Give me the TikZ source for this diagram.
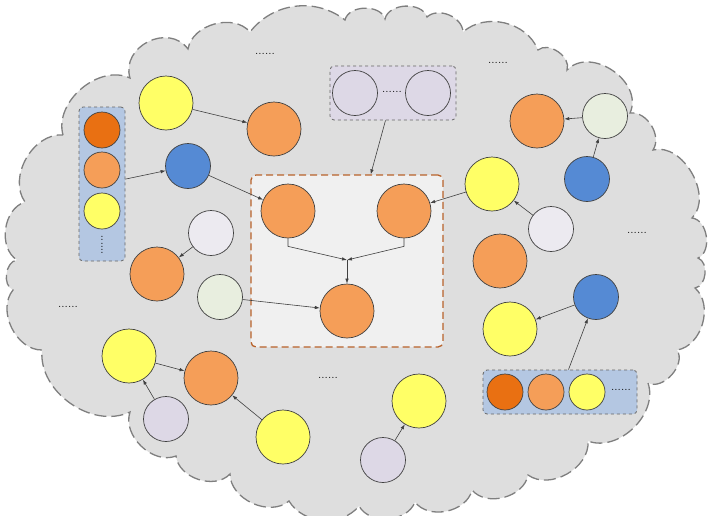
\documentclass[tikz,border=0pt]{standalone}
\usepackage{xcolor}
\usetikzlibrary{arrows.meta}
\definecolor{cfill}{HTML}{DEDEDE}
\definecolor{cgray}{HTML}{7F7F7F}
\definecolor{cedge}{HTML}{404040}
\definecolor{cyel}{HTML}{FFFF66}
\definecolor{cora}{HTML}{F59E58}
\definecolor{cdark}{HTML}{E97012}
\definecolor{cblu}{HTML}{558AD4}
\definecolor{clav}{HTML}{DDD8E6}
\definecolor{cpale}{HTML}{ECEAF0}
\definecolor{cgrn}{HTML}{E8EEDF}
\definecolor{cboxb}{HTML}{B4C7E2}
\definecolor{cboxl}{HTML}{DDD8E6}
\definecolor{ccent}{HTML}{F0F0F0}
\definecolor{cbrown}{HTML}{B8622A}

\begin{document}
\begin{tikzpicture}[x=1pt,y=-1pt,
  cloudline/.style={draw=cgray, fill=cfill, line width=1.3pt, dash pattern=on 12pt off 5pt,
    every to/.style={bend left=65, looseness=1}},
  ball/.style={circle, draw=cedge, line width=0.7pt, inner sep=0pt},
  big/.style={ball, minimum size=54pt},
  mid/.style={ball, minimum size=45pt},
  tiny/.style={ball, minimum size=36pt},
  grp/.style={draw=cedge!80, dashed, rounded corners=4pt, line width=0.8pt},
  link/.style={-{Latex[length=5pt,width=3.5pt]}, draw=cedge, line width=0.6pt},
  dots/.style={font=\large, inner sep=0pt}]
  \useasboundingbox (0,0) rectangle (720,515);

  \path[cloudline] (63,135) to (130,78) to[bend left=80, looseness=1.3] (188,49)
    to (250,32) to[bend left=45] (345,20) to[bend left=75] (385,19) to[bend left=75] (427,17)
    to (463,32) to[bend left=55] (538,50) to[bend left=75] (567,70)
    to[bend left=80, looseness=1.15] (630,113) to (653,150) to[bend left=75] (692,218)
    to[bend left=75] (698,258) to[bend left=75] (695,288) to (677,350) to[bend left=75] (648,383)
    to (588,441) to (528,475) to (472,490)
    to (415,502) to (359,506) to[bend left=55] (289,501)
    to (230,474) to (176,456) to (130,412) to[bend left=60] (42,350)
    to (13,290) to[bend left=75] (17,260) to (25,202) to (63,135) -- cycle;

  \node[grp, fill=cboxb, minimum width=46pt, minimum height=154pt] (lbox) at (102,184) {};
  \node[grp, fill=cboxl, minimum width=126pt, minimum height=54pt] (tbox) at (393,93) {};
  \node[grp, fill=cboxb, minimum width=154pt, minimum height=44pt] (rbox) at (560,392) {};
  \node[draw=cbrown, fill=ccent, line width=1.3pt, dash pattern=on 7pt off 4pt,
    rounded corners=5pt, minimum width=192pt, minimum height=172pt] (cbox) at (347,261) {};

  \node[tiny, fill=cdark] (la) at (102,130) {};
  \node[tiny, fill=cora] (lb) at (102,170) {};
  \node[tiny, fill=cyel] (lc) at (102,211) {};
  \node[dots, rotate=90] (ld) at (102,245) {......};
  \node[mid, fill=clav] (ta) at (355,93) {};
  \node[mid, fill=clav] (tb) at (428,93) {};
  \node[dots] (td) at (392,92) {......};
  \node[tiny, fill=cdark] (ra) at (505,392) {};
  \node[tiny, fill=cora] (rb) at (546,392) {};
  \node[tiny, fill=cyel] (rc) at (587,392) {};
  \node[dots] (rd) at (621,390) {......};

  \node[big, fill=cora] (c1) at (288,211) {};
  \node[big, fill=cora] (c2) at (404,211) {};
  \node[big, fill=cora] (c3) at (347,311) {};
  \coordinate (m) at (347,260);

  \node[big, fill=cyel] (y1) at (166,103) {};
  \node[big, fill=cora] (o1) at (274,129) {};
  \node[mid, fill=cblu] (b1) at (188,166) {};
  \node[mid, fill=cpale] (l1) at (211,233) {};
  \node[big, fill=cora] (o2) at (157,274) {};
  \node[mid, fill=cgrn] (g1) at (220,297) {};
  \node[big, fill=cyel] (y4) at (129,356) {};
  \node[big, fill=cora] (o4) at (211,378) {};
  \node[mid, fill=clav] (l3) at (166,419) {};
  \node[big, fill=cyel] (y5) at (283,437) {};
  \node[big, fill=cyel] (y6) at (419,401) {};
  \node[mid, fill=clav] (l4) at (383,460) {};
  \node[big, fill=cora] (o3) at (537,121) {};
  \node[mid, fill=cgrn] (g2) at (605,116) {};
  \node[mid, fill=cblu] (b2) at (587,179) {};
  \node[big, fill=cyel] (y2) at (492,184) {};
  \node[mid, fill=cpale] (l2) at (551,229) {};
  \node[big, fill=cora] (o5) at (500,261) {};
  \node[mid, fill=cblu] (b3) at (596,297) {};
  \node[big, fill=cyel] (y3) at (510,329) {};

  \node[dots] (d1) at (265,54) {......};
  \node[dots] (d2) at (498,63) {......};
  \node[dots] (d3) at (637,233) {......};
  \node[dots] (d4) at (68,307) {......};
  \node[dots] (d5) at (328,378) {......};

  \draw[link] (y1) -- (o1);
  \draw[link] (lbox) -- (b1);
  \draw[link] (b1) -- (c1);
  \draw[link] (l1) -- (o2);
  \draw[link] (g1) -- (c3);
  \draw[link] (tbox) -- (cbox);
  \draw[link] (y2) -- (c2);
  \draw[link] (l2) -- (y2);
  \draw[link] (g2) -- (o3);
  \draw[link] (b2) -- (g2);
  \draw[link] (b3) -- (y3);
  \draw[link] (rbox) -- (b3);
  \draw[link] (y4) -- (o4);
  \draw[link] (l3) -- (y4);
  \draw[link] (y5) -- (o4);
  \draw[link] (l4) -- (y6);
  \draw[link] (c1.south) -- ++(0,8) -- (m);
  \draw[link] (c2.south) -- ++(0,8) -- (m);
  \draw[link] (m) -- (c3);
\end{tikzpicture}
\end{document}
